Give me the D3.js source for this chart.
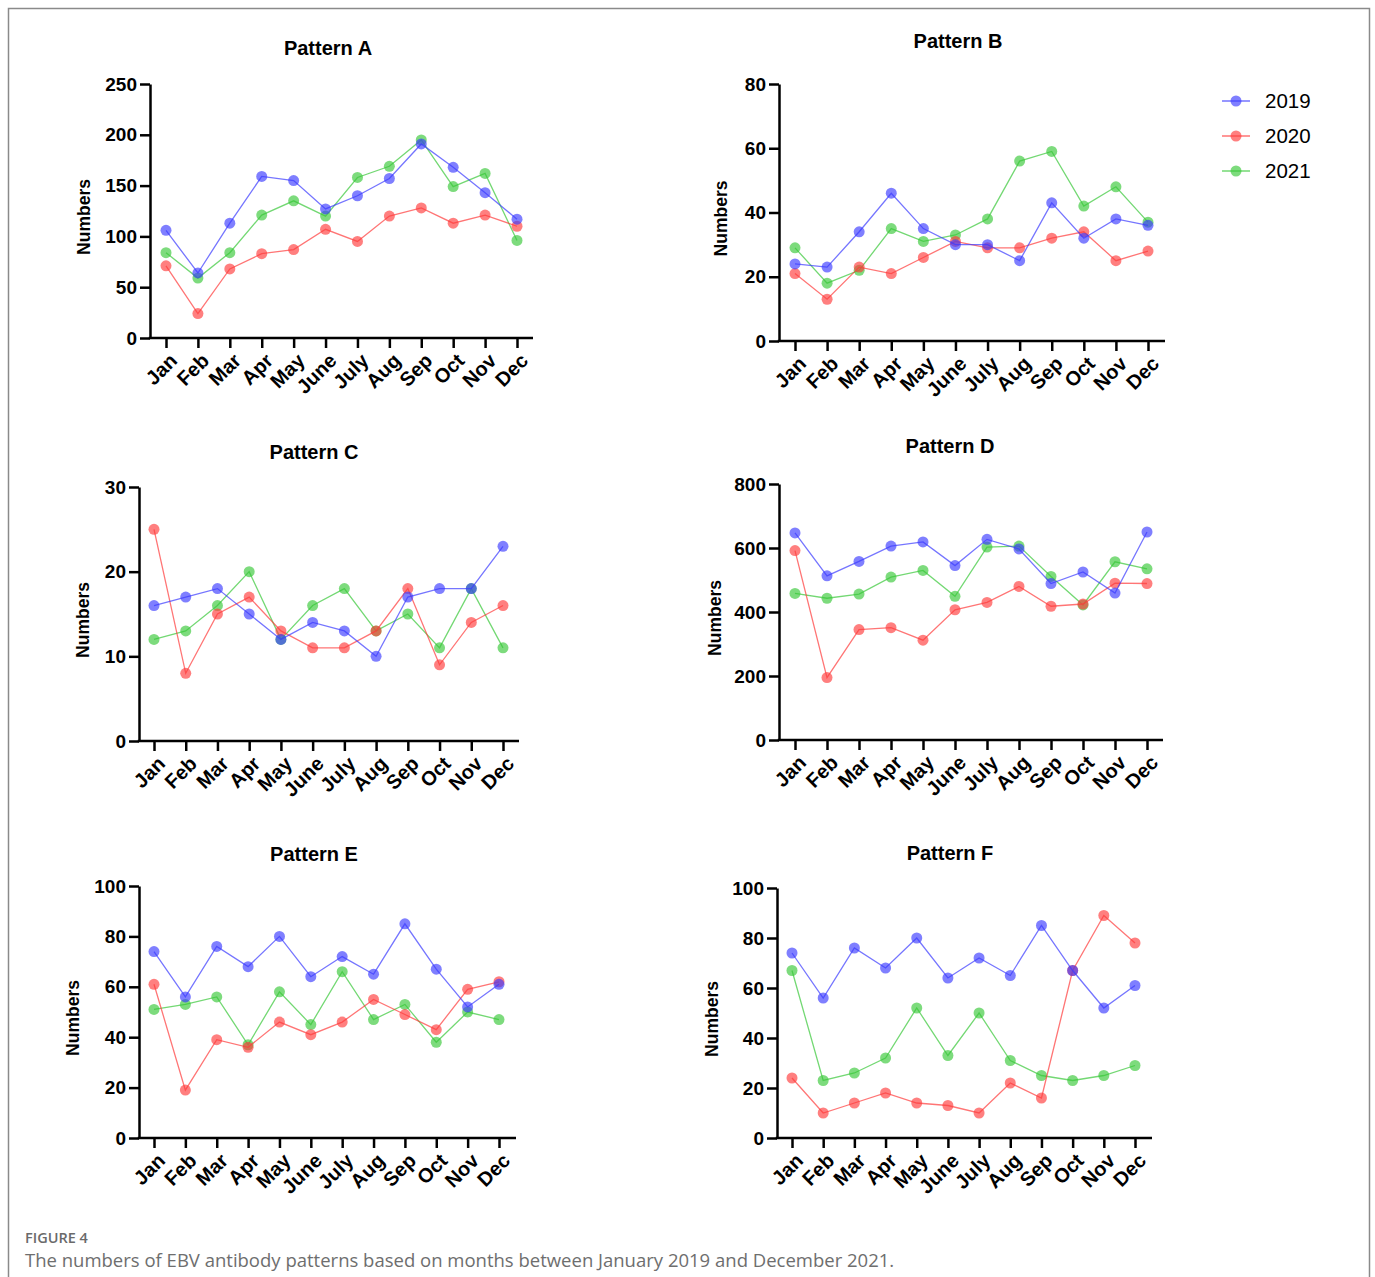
<!DOCTYPE html>
<html>
<head>
<meta charset="utf-8">
<script src="https://cdn.jsdelivr.net/npm/d3@7"></script>
<style>
  body { margin: 0; background: #fff; }
  svg { display: block; }
</style>
</head>
<body>
<script>
const months = ['Jan', 'Feb', 'Mar', 'Apr', 'May', 'June', 'July', 'Aug', 'Sep', 'Oct', 'Nov', 'Dec'];
const years = ['2019', '2020', '2021'];

// values per pattern, one array per year
const patternA2019 = [106, 64, 113, 159, 155, 127, 140, 157, 191, 168, 143, 117];
const patternA2020 = [71, 24, 68, 83, 87, 107, 95, 120, 128, 113, 121, 110];
const patternA2021 = [84, 59, 84, 121, 135, 120, 158, 169, 195, 149, 162, 96];

const patternB2019 = [24, 23, 34, 46, 35, 30, 30, 25, 43, 32, 38, 36];
const patternB2020 = [21, 13, 23, 21, 26, 31, 29, 29, 32, 34, 25, 28];
const patternB2021 = [29, 18, 22, 35, 31, 33, 38, 56, 59, 42, 48, 37];

const patternC2019 = [16, 17, 18, 15, 12, 14, 13, 10, 17, 18, 18, 23];
const patternC2020 = [25, 8, 15, 17, 13, 11, 11, 13, 18, 9, 14, 16];
const patternC2021 = [12, 13, 16, 20, 12, 16, 18, 13, 15, 11, 18, 11];

const patternD2019 = [647, 513, 558, 606, 619, 545, 627, 597, 489, 525, 459, 650];
const patternD2020 = [592, 195, 345, 351, 312, 407, 430, 480, 418, 425, 490, 489];
const patternD2021 = [458, 443, 456, 509, 530, 449, 603, 606, 511, 422, 557, 535];

const patternE2019 = [74, 56, 76, 68, 80, 64, 72, 65, 85, 67, 52, 61];
const patternE2020 = [61, 19, 39, 36, 46, 41, 46, 55, 49, 43, 59, 62];
const patternE2021 = [51, 53, 56, 37, 58, 45, 66, 47, 53, 38, 50, 47];

const patternF2019 = [74, 56, 76, 68, 80, 64, 72, 65, 85, 67, 52, 61];
const patternF2020 = [24, 10, 14, 18, 14, 13, 10, 22, 16, 67, 89, 78];
const patternF2021 = [67, 23, 26, 32, 52, 33, 50, 31, 25, 23, 25, 29];

const yMaxes = [250, 80, 30, 800, 100, 100];
const yTickSteps = [50, 20, 10, 200, 20, 20];

const colors = { '2019': '#3a3aff', '2020': '#ff3a3a', '2021': '#38c838' };
// draw order: green under red under blue
const drawOrder = [2, 1, 0];

const panels = [
  { title: 'Pattern A', series: [patternA2019, patternA2020, patternA2021],
    x0: 150, x1: 533, xa: 166, xb: 517, y0: 338, y1: 84, tx: 328, ty: 55, lx: 84 },
  { title: 'Pattern B', series: [patternB2019, patternB2020, patternB2021],
    x0: 779, x1: 1165, xa: 795, xb: 1148, y0: 341, y1: 84, tx: 958, ty: 48, lx: 721 },
  { title: 'Pattern C', series: [patternC2019, patternC2020, patternC2021],
    x0: 139, x1: 519, xa: 154, xb: 503, y0: 741, y1: 487, tx: 314, ty: 459, lx: 83 },
  { title: 'Pattern D', series: [patternD2019, patternD2020, patternD2021],
    x0: 779, x1: 1163, xa: 795, xb: 1147, y0: 740, y1: 484, tx: 950, ty: 453, lx: 715 },
  { title: 'Pattern E', series: [patternE2019, patternE2020, patternE2021],
    x0: 139, x1: 516, xa: 154, xb: 499, y0: 1138, y1: 886, tx: 314, ty: 861, lx: 73 },
  { title: 'Pattern F', series: [patternF2019, patternF2020, patternF2021],
    x0: 777, x1: 1152, xa: 792, xb: 1135, y0: 1138, y1: 888, tx: 950, ty: 860, lx: 712 }
];

const W = 1375, H = 1277;
const font = '"Liberation Sans", Arial, Helvetica, sans-serif';

const svg = d3.select('body').append('svg')
  .attr('width', W)
  .attr('height', H);

// frame round the figure (bottom left open)
svg.append('path')
  .attr('d', `M8.5,${H}V8.5H1369.5V${H}`)
  .attr('fill', 'none')
  .attr('stroke', '#8a8a8a')
  .attr('stroke-width', 1.5);

panels.forEach((p, i) => {
  const x = d3.scalePoint().domain(months).range([p.xa, p.xb]);
  const y = d3.scaleLinear().domain([0, yMaxes[i]]).range([p.y0, p.y1]);
  const g = svg.append('g');

  // y axis
  const yAxis = g.append('g')
    .attr('transform', `translate(${p.x0},0)`)
    .call(d3.axisLeft(y)
      .tickValues(d3.range(0, yMaxes[i] + 1, yTickSteps[i]))
      .tickSize(10)
      .tickSizeOuter(0)
      .tickPadding(3));

  // x axis
  const xAxis = g.append('g')
    .attr('transform', `translate(0,${p.y0})`)
    .call(d3.axisBottom(x).tickSize(10).tickSizeOuter(0));
  xAxis.select('.domain').attr('d', `M${p.x0 - 1.25},0H${p.x1}`);

  [yAxis, xAxis].forEach(a => {
    a.selectAll('.domain, .tick line')
      .attr('stroke', '#000')
      .attr('stroke-width', 2.5);
    a.selectAll('text')
      .attr('fill', '#000')
      .style('font-family', font)
      .style('font-weight', 'bold')
      .style('font-size', '19px');
  });

  xAxis.selectAll('.tick text')
    .attr('text-anchor', 'end')
    .attr('transform', 'translate(7,19) rotate(-45)')
    .attr('x', 0)
    .attr('y', 0)
    .attr('dy', '0.35em')
    .style('font-size', '20px');

  // y label
  g.append('text')
    .attr('transform', `translate(${p.lx},${(p.y0 + p.y1) / 2 + 6}) rotate(-90)`)
    .attr('text-anchor', 'middle')
    .attr('dy', '0.35em')
    .style('font-family', font)
    .style('font-weight', 'bold')
    .style('font-size', '17.5px')
    .text('Numbers');

  // title
  g.append('text')
    .attr('x', p.tx)
    .attr('y', p.ty)
    .attr('text-anchor', 'middle')
    .style('font-family', font)
    .style('font-weight', 'bold')
    .style('font-size', '20px')
    .text(p.title);

  const line = d3.line()
    .x((d, j) => x(months[j]))
    .y(d => y(d));

  drawOrder.forEach(k => {
    const vals = p.series[k];
    const c = colors[years[k]];
    g.append('path')
      .datum(vals)
      .attr('d', line)
      .attr('fill', 'none')
      .attr('stroke', c)
      .attr('stroke-opacity', 0.7)
      .attr('stroke-width', 1.3);

    g.selectAll(null)
      .data(vals)
      .enter().append('circle')
      .attr('cx', (d, j) => x(months[j]))
      .attr('cy', d => y(d))
      .attr('r', 5.5)
      .attr('fill', c)
      .attr('fill-opacity', 0.65);
  });
});

// legend
const legend = svg.append('g').attr('transform', 'translate(1222,101)');
years.forEach((yr, k) => {
  const row = legend.append('g').attr('transform', `translate(0,${k * 35})`);
  row.append('line')
    .attr('x1', 0).attr('x2', 28)
    .attr('stroke', colors[yr])
    .attr('stroke-opacity', 0.7)
    .attr('stroke-width', 1.5);
  row.append('circle')
    .attr('cx', 14).attr('r', 5.5)
    .attr('fill', colors[yr])
    .attr('fill-opacity', 0.65);
  row.append('text')
    .attr('x', 43)
    .attr('dy', '0.36em')
    .style('font-family', font)
    .style('font-size', '20.5px')
    .text(yr);
});

// caption
svg.append('text')
  .attr('x', 25)
  .attr('y', 1243)
  .attr('fill', '#6a6a6a')
  .style('font-family', '"Open Sans", "Noto Sans", sans-serif')
  .style('font-size', '14.5px')
  .style('font-weight', 600)
  .text('FIGURE 4');

svg.append('text')
  .attr('x', 25)
  .attr('y', 1267)
  .attr('fill', '#6e6e6e')
  .style('font-family', '"Open Sans", "Noto Sans", sans-serif')
  .style('font-size', '18.5px')
  .text('The numbers of EBV antibody patterns based on months between January 2019 and December 2021.');
</script>
</body>
</html>
